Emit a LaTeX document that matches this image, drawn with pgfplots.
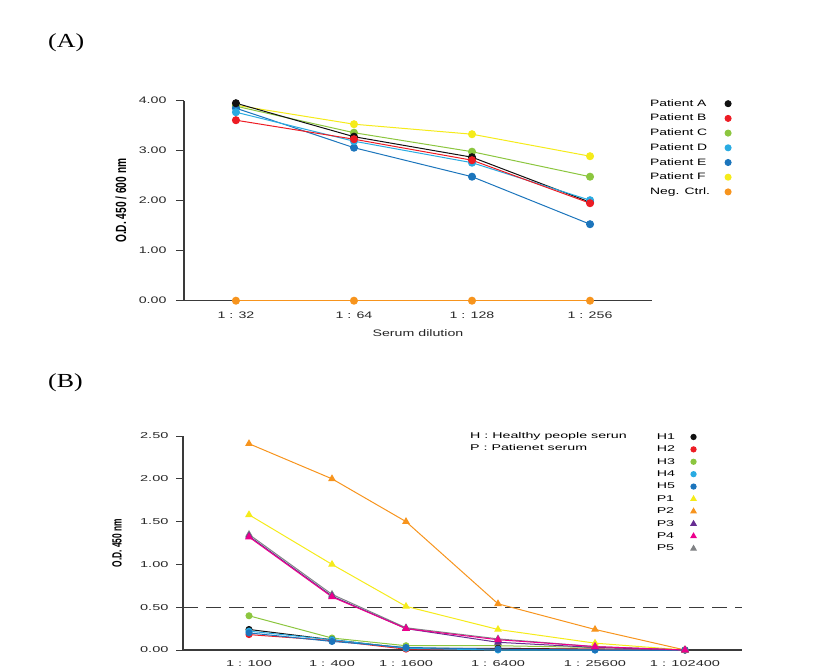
\documentclass[border=0pt]{standalone}
\usepackage{pgfplots}
\pgfplotsset{compat=1.18}
\usepackage{fontspec}
\setmainfont{Liberation Sans}
\newfontfamily\fa{Liberation Sans}[FakeStretch=1.5]
\newfontfamily\fb{Liberation Sans}[FakeStretch=1.7]
\newfontfamily\fs{Liberation Serif}[FakeStretch=1.3]
\definecolor{cblack}{HTML}{111111}
\definecolor{cred}{HTML}{ED1C24}
\definecolor{cgreen}{HTML}{8CC63F}
\definecolor{clblue}{HTML}{29ABE2}
\definecolor{cblue}{HTML}{1C75BC}
\definecolor{cyellow}{HTML}{F5EB1A}
\definecolor{corange}{HTML}{F7941D}
\definecolor{cpurple}{HTML}{662D91}
\definecolor{cmagenta}{HTML}{EC008C}
\definecolor{cgray}{HTML}{808285}
\definecolor{axgray}{HTML}{3A3A3A}
\begin{document}
\begin{tikzpicture}
\path[use as bounding box] (0bp,0bp) rectangle (822bp,-671bp);
\node[anchor=west, inner sep=0pt, font=\fs\fontsize{20}{22}\selectfont] at (48bp,-43bp) {(A)};
\node[anchor=west, inner sep=0pt, font=\fs\fontsize{20}{22}\selectfont] at (48bp,-383bp) {(B)};
% ---------------- Panel A
\begin{axis}[
  at={(184bp,-300.7bp)}, anchor=south west,
  scale only axis, width=468bp, height=200bp,
  xmin=-0.44, xmax=3.525, ymin=0, ymax=4,
  axis x line=bottom, axis y line=left,
  x axis line style={-}, y axis line style={-},
  axis line style={axgray, line width=1.2bp},
  clip=false,
  xtick={0,1,2,3}, xticklabels={1 : 32, 1 : 64, 1 : 128, 1 : 256},
  xtick style={draw=none},
  ytick={0,1,2,3,4},
  tick align=outside, major tick length=8bp,
  ytick style={axgray, line width=1bp},
  /pgf/number format/assume math mode=true,
  yticklabel style={xshift=-6bp, /pgf/number format/.cd, fixed, fixed zerofill, precision=2},
  tick label style={font=\fa\fontsize{9.5}{11}\selectfont, text=black!85},
  xlabel={Serum dilution},
  xlabel style={at={(axis description cs:0.5,-0.162)}, anchor=center, font=\fa\fontsize{9.5}{11}\selectfont, text=black!85},
  ylabel={\scalebox{1}[1.45]{\bfseries O.D. 450 / 600 nm}},
  ylabel style={at={(axis description cs:-0.1346,0.5)}, anchor=center, font=\fontsize{10.2}{12}\selectfont},
  every axis plot/.append style={line width=1bp, mark size=3.5bp, mark=*},
  legend style={at={(axis description cs:0.987,1.0235)}, anchor=north west, draw=none, fill=none,
    font=\fa\fontsize{9.3}{11}\selectfont, row sep=3.7bp, column sep=14bp,
    nodes={inner sep=1bp, text height=7bp, text depth=2bp}},
  legend cell align=left, legend plot pos=right,
]
\addplot[corange, forget plot] coordinates {(0,0) (1,0) (2,0) (3,0)};
\addplot[cyellow, forget plot] coordinates {(0,3.91) (1,3.53) (2,3.33) (3,2.89)};
\addplot[cgreen, forget plot] coordinates {(0,3.89) (1,3.36) (2,2.98) (3,2.48)};
\addplot[cblue, forget plot] coordinates {(0,3.85) (1,3.06) (2,2.48) (3,1.53)};
\addplot[cblack, forget plot] coordinates {(0,3.95) (1,3.28) (2,2.87) (3,1.97)};
\addplot[clblue, forget plot] coordinates {(0,3.77) (1,3.19) (2,2.76) (3,2.01)};
\addplot[cred, forget plot] coordinates {(0,3.61) (1,3.23) (2,2.81) (3,1.95)};
\addlegendimage{only marks, mark=*, mark size=3bp, cblack}\addlegendentry{Patient A}
\addlegendimage{only marks, mark=*, mark size=3bp, cred}\addlegendentry{Patient B}
\addlegendimage{only marks, mark=*, mark size=3bp, cgreen}\addlegendentry{Patient C}
\addlegendimage{only marks, mark=*, mark size=3bp, clblue}\addlegendentry{Patient D}
\addlegendimage{only marks, mark=*, mark size=3bp, cblue}\addlegendentry{Patient E}
\addlegendimage{only marks, mark=*, mark size=3bp, cyellow}\addlegendentry{Patient F}
\addlegendimage{only marks, mark=*, mark size=3bp, corange}\addlegendentry{Neg. Ctrl.}
\end{axis}
% ---------------- Panel B
\node[anchor=west, inner sep=0pt, align=left, font=\fb\fontsize{8.4}{11.5}\selectfont] at (470bp,-441.5bp) {H : Healthy people serun\\P : Patienet serum};
\begin{axis}[
  at={(183bp,-650bp)}, anchor=south west,
  scale only axis, width=559bp, height=214bp,
  xmin=0, xmax=559, ymin=0, ymax=2.5,
  axis x line=bottom, axis y line=left,
  x axis line style={-}, y axis line style={-},
  axis line style={axgray, line width=1.2bp},
  clip=false,
  xtick={66,149,223,315,412,502}, xticklabels={1 : 100, 1 : 400, 1 : 1600, 1 : 6400, 1 : 25600, 1 : 102400},
  xtick style={draw=none},
  ytick={0,0.5,1,1.5,2,2.5},
  tick align=outside, major tick length=7bp,
  ytick style={axgray, line width=1bp},
  /pgf/number format/assume math mode=true,
  yticklabel style={xshift=-4bp, /pgf/number format/.cd, fixed, fixed zerofill, precision=2},
  tick label style={font=\fb\fontsize{8.6}{10}\selectfont, text=black!85},
  ylabel={\scalebox{1}[1.6]{\bfseries O.D. 450 nm}},
  ylabel style={at={(axis description cs:-0.118,0.5)}, anchor=center, font=\fontsize{8.4}{10}\selectfont},
  every axis plot/.append style={line width=1bp},
  legend style={at={(axis description cs:0.84,1.03)}, anchor=north west, draw=none, fill=none,
    font=\fb\fontsize{8.4}{10}\selectfont, row sep=2bp, column sep=15bp,
    nodes={inner sep=1bp, text height=6.5bp, text depth=1.9bp}},
  legend cell align=left, legend plot pos=right,
]
\addplot[axgray, line width=1.1bp, dash pattern=on 15bp off 8bp, forget plot] coordinates {(0,0.5) (559,0.5)};
\addplot[cgreen, mark=*, mark size=3bp, forget plot] coordinates {(66,0.40) (149,0.14) (223,0.05) (315,0.05) (412,0.03) (502,0)};
\addplot[cblack, mark=*, mark size=3bp, forget plot] coordinates {(66,0.24) (149,0.12) (223,0.02) (315,0.02) (412,0.01) (502,0)};
\addplot[cred, mark=*, mark size=3bp, forget plot] coordinates {(66,0.18) (149,0.11) (223,0.01) (315,0.01) (412,0.01) (502,0)};
\addplot[clblue, mark=*, mark size=3bp, forget plot] coordinates {(66,0.22) (149,0.12) (223,0.02) (315,0.0) (412,0.0) (502,0)};
\addplot[cblue, mark=*, mark size=3bp, forget plot] coordinates {(66,0.20) (149,0.10) (223,0.03) (315,0.01) (412,0.0) (502,0)};
\addplot[corange, mark=triangle*, mark size=3.5bp, forget plot] coordinates {(66,2.41) (149,2.00) (223,1.50) (315,0.54) (412,0.24) (502,0)};
\addplot[cyellow, mark=triangle*, mark size=3.5bp, forget plot] coordinates {(66,1.58) (149,1.00) (223,0.51) (315,0.24) (412,0.08) (502,0)};
\addplot[cgray, mark=triangle*, mark size=3.5bp, forget plot] coordinates {(66,1.35) (149,0.65) (223,0.26) (315,0.13) (412,0.04) (502,0)};
\addplot[cpurple, mark=triangle*, mark size=3.5bp, forget plot] coordinates {(66,1.33) (149,0.63) (223,0.25) (315,0.09) (412,0.03) (502,0)};
\addplot[cmagenta, mark=triangle*, mark size=3.5bp, forget plot] coordinates {(66,1.32) (149,0.62) (223,0.25) (315,0.12) (412,0.04) (502,0)};
\addlegendimage{only marks, mark=*, mark size=2.6bp, cblack}\addlegendentry{H1}
\addlegendimage{only marks, mark=*, mark size=2.6bp, cred}\addlegendentry{H2}
\addlegendimage{only marks, mark=*, mark size=2.6bp, cgreen}\addlegendentry{H3}
\addlegendimage{only marks, mark=*, mark size=2.6bp, clblue}\addlegendentry{H4}
\addlegendimage{only marks, mark=*, mark size=2.6bp, cblue}\addlegendentry{H5}
\addlegendimage{only marks, mark=triangle*, mark size=3bp, cyellow}\addlegendentry{P1}
\addlegendimage{only marks, mark=triangle*, mark size=3bp, corange}\addlegendentry{P2}
\addlegendimage{only marks, mark=triangle*, mark size=3bp, cpurple}\addlegendentry{P3}
\addlegendimage{only marks, mark=triangle*, mark size=3bp, cmagenta}\addlegendentry{P4}
\addlegendimage{only marks, mark=triangle*, mark size=3bp, cgray}\addlegendentry{P5}
\end{axis}
\end{tikzpicture}
\end{document}
